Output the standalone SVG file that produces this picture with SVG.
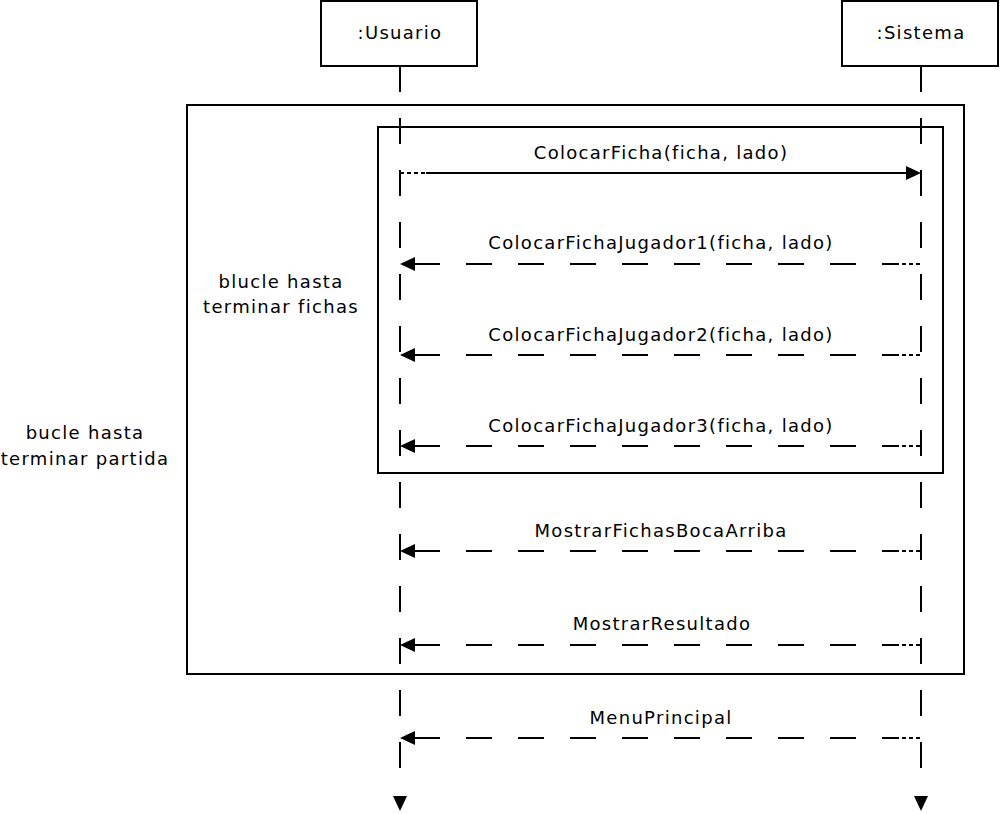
<svg xmlns="http://www.w3.org/2000/svg" width="1001" height="814" viewBox="0 0 1001 814">
<style>
text{font-family:"DejaVu Sans","Liberation Sans",sans-serif;font-size:18px;letter-spacing:1.3px;fill:#000}
.box{fill:#fff;stroke:#000;stroke-width:2}
.frame{fill:none;stroke:#000;stroke-width:2}
.life{stroke:#000;stroke-width:2;stroke-dasharray:26 26}
.ret{stroke:#000;stroke-width:2;stroke-dasharray:26 26;stroke-dashoffset:38}
.dot{stroke:#000;stroke-width:2;stroke-dasharray:4 3}
.sol{stroke:#000;stroke-width:2}
.head{fill:#000}
</style>
<rect width="1001" height="814" fill="#fff"/>
<g id="frames">
<rect id="loop-partida" class="frame" x="187" y="105" width="777" height="569"/>
<rect id="loop-fichas" class="frame" x="378" y="127" width="565" height="346"/>
<text x="85" y="439" text-anchor="middle">bucle hasta</text>
<text x="85" y="465" text-anchor="middle">terminar partida</text>
<text x="281" y="288" text-anchor="middle">blucle hasta</text>
<text x="281" y="313" text-anchor="middle">terminar fichas</text>
</g>
<g id="usuario">
<rect class="box" x="321" y="1" width="156" height="65"/>
<text x="400" y="39" text-anchor="middle">:Usuario</text>
<line class="life" x1="400" y1="66" x2="400" y2="784"/>
<polygon class="head" points="393,796 407,796 400,811"/>
</g>
<g id="sistema">
<rect class="box" x="842" y="1" width="156" height="65"/>
<text x="921" y="39" text-anchor="middle">:Sistema</text>
<line class="life" x1="921" y1="66" x2="921" y2="784"/>
<polygon class="head" points="914,796 928,796 921,811"/>
</g>
<g id="connectors">
<line class="dot" x1="400" y1="173" x2="426" y2="173"/>
<line class="sol" x1="426" y1="173" x2="908" y2="173"/>
<polygon class="head" points="906,166 921,173 906,180"/>
<text x="661" y="159" text-anchor="middle">ColocarFicha(ficha, lado)</text>

<line class="ret" x1="400" y1="264" x2="895" y2="264"/>
<line class="dot" x1="895" y1="264" x2="921" y2="264"/>
<polygon class="head" points="400,264 415,257 415,271"/>
<text x="661" y="249" text-anchor="middle">ColocarFichaJugador1(ficha, lado)</text>

<line class="ret" x1="400" y1="355" x2="895" y2="355"/>
<line class="dot" x1="895" y1="355" x2="921" y2="355"/>
<polygon class="head" points="400,355 415,348 415,362"/>
<text x="661" y="341" text-anchor="middle">ColocarFichaJugador2(ficha, lado)</text>

<line class="ret" x1="400" y1="446" x2="895" y2="446"/>
<line class="dot" x1="895" y1="446" x2="921" y2="446"/>
<polygon class="head" points="400,446 415,439 415,453"/>
<text x="661" y="432" text-anchor="middle">ColocarFichaJugador3(ficha, lado)</text>

<line class="ret" x1="400" y1="551" x2="895" y2="551"/>
<line class="dot" x1="895" y1="551" x2="921" y2="551"/>
<polygon class="head" points="400,551 415,544 415,558"/>
<text x="661" y="537" text-anchor="middle">MostrarFichasBocaArriba</text>

<line class="ret" x1="400" y1="645" x2="895" y2="645"/>
<line class="dot" x1="895" y1="645" x2="921" y2="645"/>
<polygon class="head" points="400,645 415,638 415,652"/>
<text x="662" y="630" text-anchor="middle">MostrarResultado</text>

<line class="ret" x1="400" y1="738" x2="895" y2="738"/>
<line class="dot" x1="895" y1="738" x2="921" y2="738"/>
<polygon class="head" points="400,738 415,731 415,745"/>
<text x="661" y="724" text-anchor="middle">MenuPrincipal</text>
</g>
</svg>
